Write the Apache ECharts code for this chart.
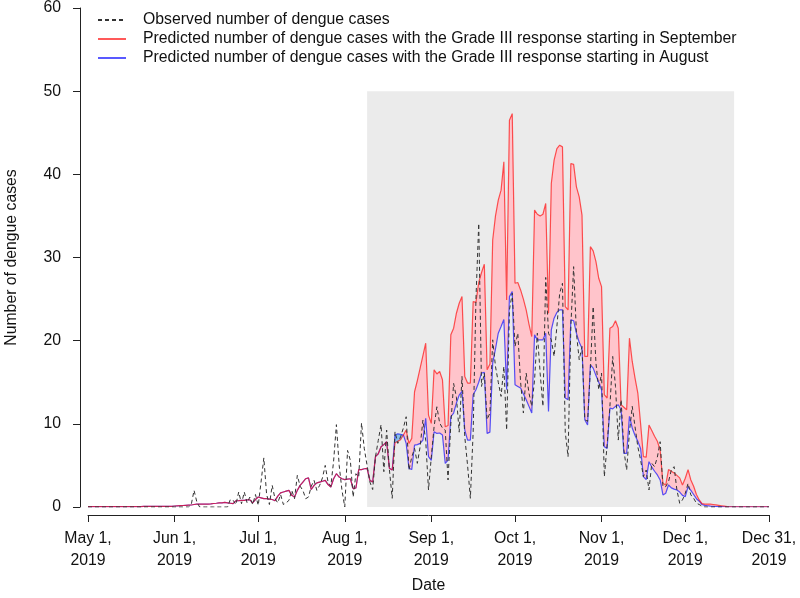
<!DOCTYPE html>
<html><head><meta charset="utf-8">
<script src="https://cdn.jsdelivr.net/npm/echarts@6/dist/echarts.min.js"></script>
<style>html,body{margin:0;padding:0;background:#fff}#c{width:800px;height:598px}</style>
</head><body><div id="c"></div>
<script>
// day index 0 = May 1, 2019 ... 244 = Dec 31, 2019
const tickDays = [0, 31, 61, 92, 123, 153, 184, 214, 244];
const tickLabels = ['May 1,\n2019', 'Jun 1,\n2019', 'Jul 1,\n2019', 'Aug 1,\n2019', 'Sep 1,\n2019',
  'Oct 1,\n2019', 'Nov 1,\n2019', 'Dec 1,\n2019', 'Dec 31,\n2019'];
const shadeStart = 100, shadeEnd = 231.5, shadeTop = 50;
const seriesNames = ['Observed number of dengue cases',
  'Predicted number of dengue cases with the Grade III response starting in September',
  'Predicted number of dengue cases with the Grade III response starting in August'];

const observed = [
  0,0,0,0,0,0,0,0,0,0,
  0,0,0,0,0,0,0,0,0,0,
  0,0,0,0,0,0,0,0,0,0,
  0,0,0,0,0,0,0,0.3,2.0,0.6,
  0,0,0,0,0,0,0,0,0,0,
  0,0.9,0.8,0.3,1.8,0.4,1.8,0.5,1.2,0.3,
  1.5,0.2,3.0,5.9,1.5,0.3,2.6,1.0,0.5,1.5,
  0.3,0.5,0.8,2.0,1.0,3.8,2.5,2.0,1.0,1.2,
  2.5,3.2,2.0,2.6,3.5,5.0,3.0,2.5,5.5,9.9,
  5.0,2.0,0,6.8,5.6,1.2,4.0,3.6,10.1,7.0,
  5.0,3.0,2.1,6.05,8.0,9.9,4.25,9.25,4.45,1.05,
  9.05,7.65,8.45,9.5,10.85,4.45,6.0,7.05,5.25,7.25,
  10.45,8.0,2.05,6.0,9.65,12.05,10.1,9.5,9.25,3.25,
  10.0,14.85,13.2,9.0,15.7,8.45,5.0,1.05,9.0,25.0,
  34.1,14.5,16.1,10.5,11.3,20.1,16.9,15.0,13.3,16.9,
  9.25,23.7,25.7,19.3,20.9,15.0,11.3,16.1,13.7,12.1,
  15.3,20.9,16.1,12.1,27.6,20.9,20.1,18.1,21.7,25.7,
  26.9,9.0,6.05,21.7,28.9,20.9,17.7,19.3,10.5,10.3,
  16.5,24.1,17.3,14.1,16.1,3.65,7.45,12.1,18.1,14.5,
  8.05,12.9,6.85,4.45,9.0,12.1,9.65,7.25,5.65,3.65,
  4.45,2.05,5.25,4.85,6.0,7.85,2.45,2.45,3.05,4.45,
  4.85,2.05,0.45,0.85,1.65,2.85,1.45,1.05,0.45,0.3,
  0.1,0,0,0,0,0,0,0,0,0,
  0,0,0,0,0,0,0,0,0,0,
  0,0,0,0,0
];

const predSep = [
  0.05,0.05,0.05,0.05,0.05,0.05,0.05,0.05,0.05,0.05,
  0.05,0.05,0.05,0.05,0.05,0.05,0.05,0.05,0.05,0.05,
  0.08,0.08,0.08,0.08,0.08,0.08,0.08,0.08,0.08,0.08,
  0.08,0.12,0.14,0.16,0.18,0.2,0.22,0.24,0.3,0.35,
  0.35,0.35,0.35,0.35,0.38,0.42,0.45,0.5,0.5,0.55,
  0.5,0.45,0.4,0.75,0.76,0.8,0.8,0.85,0.85,0.5,
  0.9,1.2,1.1,1.0,1.0,0.95,0.9,0.76,1.3,1.7,
  1.8,1.9,2.0,1.4,1.2,2.0,2.6,3.0,3.4,3.5,
  2.1,2.6,2.9,3.0,3.1,3.2,2.7,2.4,3.4,4.0,
  3.6,3.4,3.3,3.35,3.4,2.2,2.3,4.5,4.5,4.6,
  4.65,3.2,3.0,6.05,6.4,7.25,7.5,7.85,4.65,4.45,
  7.7,7.9,8.1,8.65,9.25,7.65,8.25,13.86,15.2,16.7,
  18.2,19.7,11.05,10.05,16.5,16.0,16.3,15.3,9.65,9.8,
  20.7,21.5,23.3,24.5,25.3,15.7,14.9,14.9,24.7,24.6,
  27.0,28.2,29.2,16.5,17.2,32.1,35.0,36.9,38.1,41.5,
  24.9,46.5,47.3,26.9,27.0,26.1,25.0,23.7,22.0,20.5,
  35.7,35.2,35.0,35.2,36.5,23.3,38.9,41.7,43.1,43.5,
  43.3,24.1,23.7,41.3,41.2,38.5,37.3,35.1,18.1,18.1,
  31.3,30.8,29.5,27.5,26.5,13.5,13.1,21.5,21.7,22.4,
  21.5,12.3,12.0,11.7,20.3,17.5,15.5,13.7,10.0,6.05,
  6.0,9.85,9.2,8.5,7.9,6.85,2.85,2.65,4.5,4.3,
  4.1,3.8,3.5,2.65,3.45,4.5,3.25,2.5,1.5,0.85,
  0.4,0.35,0.35,0.35,0.3,0.25,0.2,0.15,0.1,0.05,
  0.03,0.03,0.03,0.03,0.03,0.03,0.03,0.03,0.03,0.03,
  0.03,0.03,0.03,0.03,0.03
];

const predAug = [
  0.05,0.05,0.05,0.05,0.05,0.05,0.05,0.05,0.05,0.05,
  0.05,0.05,0.05,0.05,0.05,0.05,0.05,0.05,0.05,0.05,
  0.08,0.08,0.08,0.08,0.08,0.08,0.08,0.08,0.08,0.08,
  0.08,0.12,0.14,0.16,0.18,0.2,0.22,0.24,0.3,0.35,
  0.35,0.35,0.35,0.35,0.38,0.42,0.45,0.5,0.5,0.55,
  0.5,0.45,0.4,0.75,0.76,0.8,0.8,0.85,0.85,0.5,
  0.9,1.2,1.1,1.0,1.0,0.95,0.9,0.76,1.3,1.7,
  1.8,1.9,2.0,1.4,1.2,2.0,2.6,3.0,3.4,3.5,
  2.1,2.6,2.9,3.0,3.1,3.2,2.7,2.4,3.4,4.0,
  3.6,3.4,3.3,3.35,3.4,2.2,2.3,4.5,4.5,4.6,
  4.65,3.2,3.0,6.05,6.4,7.25,7.5,7.85,4.65,4.45,
  8.65,8.8,8.75,8.65,7.65,4.65,4.5,7.45,7.5,7.65,
  8.05,10.66,6.05,5.6,9.05,8.85,8.9,8.65,5.25,5.65,
  10.85,11.3,12.5,13.45,13.9,9.25,8.05,8.05,13.5,14.1,
  15.0,16.1,16.2,8.85,9.0,17.3,19.0,20.9,21.7,22.55,
  14.1,25.3,25.9,14.7,14.5,14.3,13.6,12.9,12.1,11.3,
  20.7,20.1,20.1,20.1,20.9,11.5,21.3,22.7,23.4,23.7,
  23.7,13.1,12.9,22.5,22.4,20.9,19.8,19.1,10.5,9.85,
  17.1,16.7,15.8,15.0,14.1,7.25,7.05,11.9,11.8,12.1,
  12.3,11.7,6.45,6.45,10.9,9.5,8.6,7.9,7.0,3.65,
  3.3,5.45,4.8,4.3,3.85,3.25,1.45,1.65,2.65,2.3,
  2.15,2.05,1.8,1.4,1.25,2.45,2.0,1.5,1.0,0.7,
  0.3,0.2,0.15,0.1,0.08,0.06,0.05,0.04,0.03,0.03,
  0.03,0.03,0.03,0.03,0.03,0.03,0.03,0.03,0.03,0.03,
  0.03,0.03,0.03,0.03,0.03
];

const FONT = '"Liberation Sans", Arial, Helvetica, sans-serif';
const FS = 15.8;
const TXT = '#111';
const AX = '#222';

const pairs = arr => arr.map((v, i) => [i, v]);

const chart = echarts.init(document.getElementById('c'), null, {renderer: 'canvas'});
chart.setOption({
  animation: false,
  backgroundColor: '#fff',
  textStyle: {fontFamily: FONT},
  grid: [
    {left: 88, right: 31, top: 8, bottom: 91, containLabel: false, outerBoundsMode: 'none'},
    {left: 80, right: 31, top: 8, bottom: 91, containLabel: false, outerBoundsMode: 'none'}
  ],
  legend: {
    orient: 'vertical', left: 92, top: 7, itemWidth: 28, itemHeight: 12, itemGap: 3,
    selectedMode: false, data: seriesNames,
    itemStyle: {opacity: 0},
    textStyle: {fontSize: FS, color: TXT, fontFamily: FONT, padding: [0, 0, 0, 12]}
  },
  xAxis: [{
    gridIndex: 0, type: 'value', min: 0, max: 244, offset: 8,
    name: 'Date', nameLocation: 'middle', nameGap: 63,
    nameTextStyle: {fontSize: FS, color: TXT, fontFamily: FONT},
    axisLine: {show: true, onZero: false, lineStyle: {color: AX, width: 1}},
    axisTick: {show: true, customValues: tickDays, length: 7, lineStyle: {color: AX}},
    axisLabel: {customValues: tickDays, formatter: v => tickLabels[tickDays.indexOf(v)],
      fontSize: FS, color: TXT, fontFamily: FONT, lineHeight: 22, margin: 13},
    splitLine: {show: false}
  }, {
    gridIndex: 1, type: 'value', min: 0, max: 244, show: false
  }],
  yAxis: [{
    gridIndex: 0, type: 'value', min: 0, max: 60, interval: 10, show: false
  }, {
    gridIndex: 1, type: 'value', min: 0, max: 60, interval: 10,
    name: 'Number of dengue cases', nameLocation: 'middle', nameGap: 60, nameRotate: 90,
    nameTextStyle: {fontSize: FS, color: TXT, fontFamily: FONT},
    axisLine: {show: true, onZero: false, lineStyle: {color: AX, width: 1}},
    axisTick: {show: true, length: 7, lineStyle: {color: AX}},
    axisLabel: {fontSize: FS, color: TXT, fontFamily: FONT, margin: 19},
    splitLine: {show: false}
  }],
  series: [
    {name: 'shade', type: 'custom', z: 1, silent: true, clip: true,
      data: [[shadeStart, 0, shadeEnd, shadeTop]],
      renderItem: (params, api) => {
        const p0 = api.coord([api.value(0), api.value(1)]);
        const p1 = api.coord([api.value(2), api.value(3)]);
        return {type: 'rect', shape: {x: p0[0], y: p1[1], width: p1[0] - p0[0], height: p0[1] - p1[1]},
          style: {fill: '#ebebeb'}};
      }},
    {name: 'band', type: 'custom', z: 2, silent: true, clip: true,
      data: [[0, 0]],
      renderItem: (params, api) => {
        const top = predSep.map((v, i) => api.coord([i, Math.max(v, predAug[i])]));
        const blue = predAug.map((v, i) => api.coord([i, v])).reverse();
        const red = predSep.map((v, i) => api.coord([i, v])).reverse();
        return {type: 'group', children: [
          {type: 'polygon', shape: {points: top.concat(blue)}, style: {fill: '#ffc4cb'}},
          {type: 'polygon', shape: {points: top.concat(red)}, style: {fill: '#86bdea'}}
        ]};
      }},
    {name: seriesNames[2], type: 'line', data: pairs(predAug), z: 3, symbol: 'none',
      itemStyle: {color: 'rgba(0,0,255,0.65)'},
      lineStyle: {color: 'rgba(0,0,255,0.65)', width: 1.2}},
    {name: seriesNames[1], type: 'line', data: pairs(predSep), z: 4, symbol: 'none',
      itemStyle: {color: 'rgba(255,0,0,0.65)'},
      lineStyle: {color: 'rgba(255,0,0,0.65)', width: 1.2}},
    {name: seriesNames[0], type: 'line', data: pairs(observed), z: 5, symbol: 'none',
      itemStyle: {color: '#333'},
      lineStyle: {color: '#333', width: 1, type: [4, 3]}}
  ]
});
</script></body></html>
